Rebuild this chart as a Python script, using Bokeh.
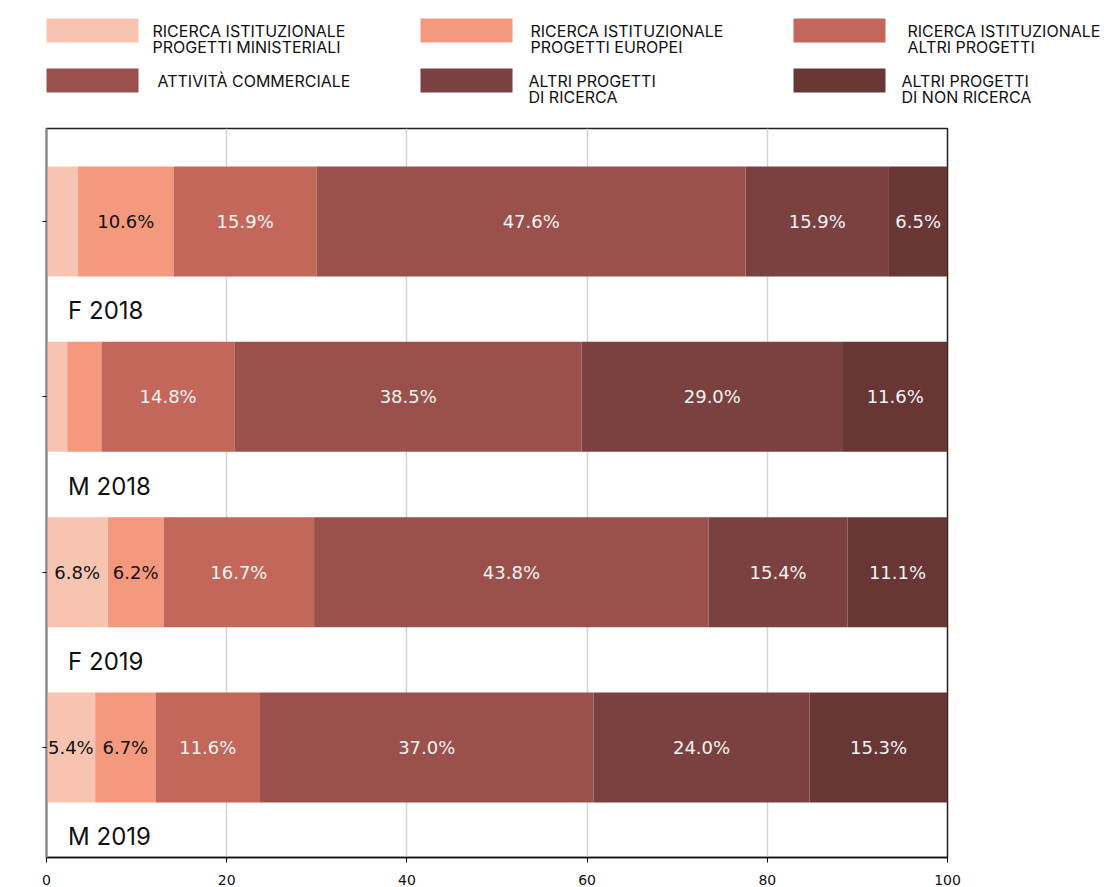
from bokeh.plotting import figure
from bokeh.models import Range1d, FixedTicker, ColumnDataSource
from bokeh.core.properties import value
from bokeh.embed import file_html
from bokeh.resources import INLINE

categories = ["F 2018", "M 2018", "F 2019", "M 2019"]
series_names = [
    "RICERCA ISTITUZIONALE\nPROGETTI MINISTERIALI",
    "RICERCA ISTITUZIONALE\nPROGETTI EUROPEI",
    "RICERCA ISTITUZIONALE\nALTRI PROGETTI",
    "ATTIVITÀ COMMERCIALE",
    "ALTRI PROGETTI\nDI RICERCA",
    "ALTRI PROGETTI\nDI NON RICERCA",
]
colors = ["#F8C4B2", "#F4997E", "#C2675A", "#9A514C", "#7A4140", "#673635"]
label_colors = ["#111111", "#111111", "#F4F4F4", "#F4F4F4", "#F4F4F4", "#F4F4F4"]

ric_ministeriali = [3.5, 2.3, 6.8, 5.4]
ric_europei = [10.6, 3.8, 6.2, 6.7]
ric_altri = [15.9, 14.8, 16.7, 11.6]
att_commerciale = [47.6, 38.5, 43.8, 37.0]
altri_ricerca = [15.9, 29.0, 15.4, 24.0]
altri_non_ricerca = [6.5, 11.6, 11.1, 15.3]
series = [ric_ministeriali, ric_europei, ric_altri, att_commerciale, altri_ricerca, altri_non_ricerca]

x_ticks = [0, 20, 40, 60, 80, 100]

W = 1110
# ---------------- legend figure ----------------
LH = 120
leg = figure(width=W, height=LH, x_range=Range1d(0, W), y_range=Range1d(LH, 0),
             output_backend="svg", toolbar_location=None, min_border=0)
leg.axis.visible = False
leg.grid.visible = False
leg.outline_line_color = None
sw_x0 = [46, 420, 793]
txt_x = [[152, 530, 907], [157, 528, 901]]
for i, (name, col) in enumerate(zip(series_names, colors)):
    c, r = i % 3, i // 3
    cy = 30 + r * 50
    leg.rect(x=[sw_x0[c] + 46], y=[cy], width=92, height=24, fill_color=col, line_color=None)
    lines = name.split("\n")
    tx = txt_x[r][c]
    leg.text(x=[tx] * len(lines), y=[cy + k * 16 for k in range(len(lines))], text=lines,
             text_font=value("Inter"), text_font_size="16px",
             text_color="#111111", text_align="left", text_baseline="middle")

# ---------------- main figure ----------------
MH = 767
p = figure(width=W, height=MH, x_range=Range1d(0, 100), y_range=Range1d(3.627, -0.53),
           output_backend="svg", toolbar_location=None,
           min_border_left=46, min_border_right=W - 46 - 901, min_border_top=8, min_border_bottom=29)

ys = list(range(len(categories)))
lefts = [0.0] * len(categories)
for s, col, lc in zip(series, colors, label_colors):
    rights = [l + v for l, v in zip(lefts, s)]
    p.hbar(y=ys, left=lefts, right=rights, height=0.627, fill_color=col, line_color=None)
    mids = [(l + r) / 2 for l, r in zip(lefts, rights)]
    txt = [f"{v:.1f}%" if v >= 5 else "" for v in s]
    src = ColumnDataSource(dict(x=mids, y=ys, t=txt))
    p.text(x="x", y="y", text="t", source=src, text_font=value("DejaVu Sans"),
           text_font_size="18px", text_color=lc, text_align="center", text_baseline="middle")
    lefts = rights

p.text(x=[2.4] * len(categories), y=[y + 0.51 for y in ys], text=categories,
       text_font=value("Inter"), text_font_size="24px", text_color="#111111",
       text_align="left", text_baseline="middle")

p.ygrid.visible = False
p.xgrid.ticker = FixedTicker(ticks=x_ticks)
p.xgrid.grid_line_color = "#d4d4d4"
p.xgrid.grid_line_width = 1.5

p.xaxis.ticker = FixedTicker(ticks=x_ticks)
p.xaxis.axis_line_color = "#111111"
p.xaxis.axis_line_width = 1.5
p.xaxis.major_tick_out = 5
p.xaxis.major_tick_in = 0
p.xaxis.minor_tick_line_color = None
p.xaxis.major_label_text_font = "DejaVu Sans"
p.xaxis.major_label_text_font_size = "14px"
p.xaxis.major_label_text_color = "#111111"
p.xaxis.major_label_standoff = 12

p.yaxis.ticker = FixedTicker(ticks=ys)
p.yaxis.major_label_overrides = {y: "" for y in ys}
p.yaxis.major_label_text_font_size = "1px"
p.yaxis.axis_line_color = "#888888"
p.yaxis.axis_line_width = 2
p.yaxis.major_tick_out = 4
p.yaxis.major_tick_in = 0
p.yaxis.major_tick_line_color = "#111111"
p.yaxis.minor_tick_line_color = None

p.outline_line_color = "#222222"
p.outline_line_width = 1.5

open("out.html", "w").write(file_html([leg, p], INLINE))
